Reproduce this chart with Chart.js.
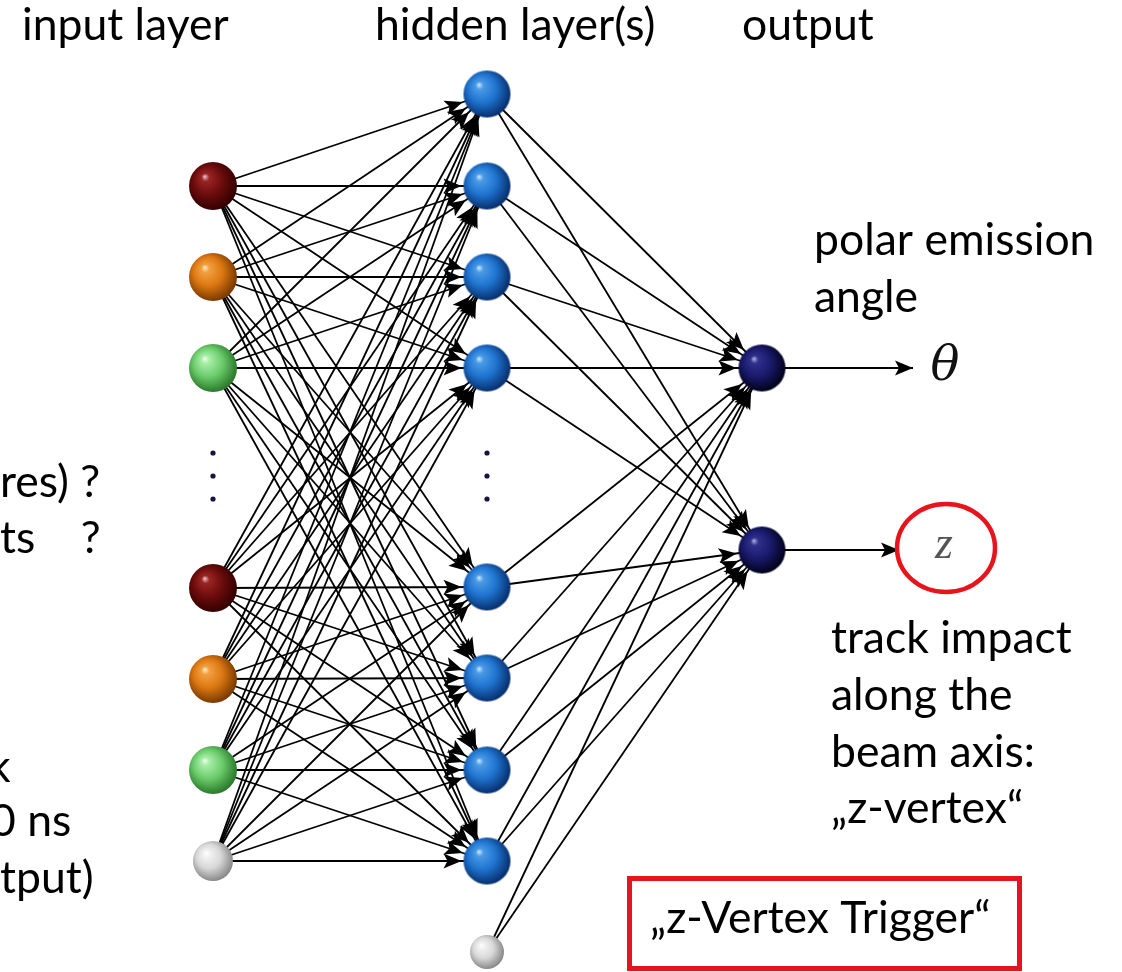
<!DOCTYPE html>
<html>
<head>
<meta charset="utf-8">
<script src="https://cdn.jsdelivr.net/npm/chart.js@4.4.0/dist/chart.umd.min.js"></script>
<style>
  html, body { margin: 0; padding: 0; background: #fff; overflow: hidden; }
  #wrap { width: 1122px; height: 972px; }
</style>
</head>
<body>
<div id="wrap"><canvas id="net" width="1122" height="972"></canvas></div>
<script>
// layer columns and node rows
const layerX = [213, 487, 762];
const inputY = [186, 277, 368, 588, 679, 770, 861];
const inputKind = ['maroon', 'orange', 'green', 'maroon', 'orange', 'green', 'bias'];
const hiddenY = [94, 186, 277, 368, 587, 678, 770, 861];
const hiddenBiasY = 952;
const outputY = [368, 550];
const outputEndX = [913, 899];
const outputSymbol = ['θ', 'z'];
const dotsY = [453, 476, 499];

const palette = {
    maroon: ['#f0c8c8', '#9a2424', '#6c0c0c', '#340000'],
    orange: ['#fff0d0', '#f2a040', '#dc7812', '#7a3a00'],
    green:  ['#f0fff0', '#a8eea8', '#6ccc6c', '#2a7a2a'],
    bias:   ['#ffffff', '#f2f2f2', '#d8d8d8', '#8a8a8a'],
    blue:   ['#d8ecff', '#4a9ae6', '#1f74d0', '#08306e'],
    navy:   ['#b8b8e8', '#30308c', '#1a1a6c', '#02021c']
};

function sphere(kind, r) {
    const c = document.createElement('canvas');
    c.width = c.height = Math.ceil(r * 2) + 2;
    const g = c.getContext('2d');
    const cx = c.width / 2, cy = c.height / 2;
    const [hi, light, body, edge] = palette[kind];
    const grad = g.createRadialGradient(cx - r * 0.35, cy - r * 0.4, 0, cx - r * 0.1, cy - r * 0.1, r * 1.1);
    grad.addColorStop(0, hi);
    grad.addColorStop(0.15, light);
    grad.addColorStop(0.55, body);
    grad.addColorStop(1, edge);
    g.fillStyle = grad;
    g.beginPath();
    g.arc(cx, cy, r, 0, Math.PI * 2);
    g.fill();
    return c;
}

const R = 23.5;
const inputR = inputKind.map(k => k === 'bias' ? 20 : 24);
const hiddenBiasR = 17;

// edges: every input -> every hidden, every hidden (+bias) -> every output
const edges = [];
inputY.forEach(y1 => hiddenY.forEach(y2 => edges.push({ x1: layerX[0], y1, x2: layerX[1], y2, r: R + 2 })));
hiddenY.concat([hiddenBiasY]).forEach(y1 => outputY.forEach(y2 => edges.push({ x1: layerX[1], y1, x2: layerX[2], y2, r: R + 2 })));
outputY.forEach((y, i) => edges.push({ x1: layerX[2], y1: y, x2: outputEndX[i], y2: y, r: 0 }));

const edgeSets = edges.map(e => ({
    data: [{ x: e.x1, y: e.y1 }, { x: e.x2, y: e.y2 }],
    showLine: true,
    borderColor: '#000',
    borderWidth: 1.8,
    pointRadius: 0,
    order: 3
}));

const nodeSets = [
    {
        data: inputY.map(y => ({ x: layerX[0], y })),
        pointStyle: inputKind.map((k, i) => sphere(k, inputR[i])),
        pointRadius: 20, order: 0
    },
    {
        data: hiddenY.map(y => ({ x: layerX[1], y })).concat([{ x: layerX[1], y: hiddenBiasY }]),
        pointStyle: hiddenY.map(() => sphere('blue', R)).concat([sphere('bias', hiddenBiasR)]),
        pointRadius: 17, order: 0
    },
    {
        data: outputY.map(y => ({ x: layerX[2], y })),
        pointStyle: outputY.map(() => sphere('navy', R)),
        pointRadius: 20, order: 0
    },
    {
        data: dotsY.map(y => ({ x: layerX[0], y })).concat(dotsY.map(y => ({ x: layerX[1], y }))),
        pointRadius: 2.6, pointBackgroundColor: '#14143c', pointBorderWidth: 0, order: 0
    }
];

// stealth-like arrow heads at the target end of each edge
const arrowPlugin = {
    id: 'arrows',
    beforeDatasetsDraw(chart) {
        const { ctx, scales: { x, y } } = chart;
        ctx.save();
        ctx.fillStyle = '#000';
        edges.forEach(e => {
            const ax = x.getPixelForValue(e.x1), ay = y.getPixelForValue(e.y1);
            const bx = x.getPixelForValue(e.x2), by = y.getPixelForValue(e.y2);
            const len = Math.hypot(bx - ax, by - ay);
            const ux = (bx - ax) / len, uy = (by - ay) / len;
            const tx = bx - ux * e.r, ty = by - uy * e.r;
            const L = 18, W = 7.5, inset = 4;
            ctx.beginPath();
            ctx.moveTo(tx, ty);
            ctx.lineTo(tx - ux * L - uy * W, ty - uy * L + ux * W);
            ctx.lineTo(tx - ux * (L - inset), ty - uy * (L - inset));
            ctx.lineTo(tx - ux * L + uy * W, ty - uy * L - ux * W);
            ctx.closePath();
            ctx.fill();
        });
        ctx.restore();
    }
};

const FONT = '44.5px Lato, "Open Sans", sans-serif';
const labels = [
    { t: 'input layer', x: 22, y: 40 },
    { t: 'hidden layer(s)', x: 375, y: 40 },
    { t: 'output', x: 742, y: 40 },
    { t: 'polar emission', x: 814, y: 255 },
    { t: 'angle', x: 814, y: 312 },
    { t: 'track impact', x: 831, y: 653 },
    { t: 'along the', x: 831, y: 710 },
    { t: 'beam axis:', x: 831, y: 767 },
    { t: '\u201Ez-vertex\u201C', x: 831, y: 823 },
    { t: '\u201Ez-Vertex Trigger\u201C', x: 650, y: 933 },
    { t: 'res) ?', x: 0, y: 497 },
    { t: 'ts    ?', x: 0, y: 553 },
    { t: 'k', x: -12, y: 782 },
    { t: '0 ns', x: -10, y: 836 },
    { t: 'tput)', x: 0, y: 893 }
];

const textPlugin = {
    id: 'texts',
    afterDraw(chart) {
        const { ctx, scales: { x, y } } = chart;
        ctx.save();
        ctx.fillStyle = '#000';
        ctx.font = FONT;
        ctx.textBaseline = 'alphabetic';
        labels.forEach(l => ctx.fillText(l.t, x.getPixelForValue(l.x), y.getPixelForValue(l.y)));

        // output symbols
        ctx.font = 'italic 48px "DejaVu Serif", "Liberation Serif", serif';
        ctx.textAlign = 'center';
        ctx.textBaseline = 'middle';
        ctx.fillStyle = '#111';
        ctx.fillText(outputSymbol[0], x.getPixelForValue(945), y.getPixelForValue(outputY[0]));
        ctx.fillStyle = '#555';
        ctx.font = 'italic 46px "Liberation Serif", serif';
        ctx.fillText(outputSymbol[1], x.getPixelForValue(944), y.getPixelForValue(outputY[1] - 4));

        // red highlight marks
        ctx.strokeStyle = '#e8141c';
        ctx.lineWidth = 4.5;
        ctx.beginPath();
        ctx.ellipse(x.getPixelForValue(946), y.getPixelForValue(548), 49, 44, 0, 0, Math.PI * 2);
        ctx.stroke();
        ctx.lineWidth = 5;
        ctx.strokeRect(x.getPixelForValue(629.5), y.getPixelForValue(878.5), 390, 90);
        ctx.restore();
    }
};

new Chart(document.getElementById('net'), {
    type: 'scatter',
    data: { datasets: nodeSets.concat(edgeSets) },
    options: {
        responsive: false,
        animation: false,
        events: [],
        layout: { padding: 0, autoPadding: false },
        scales: {
            x: { type: 'linear', min: 0, max: 1122, display: false },
            y: { type: 'linear', min: 0, max: 972, reverse: true, display: false }
        },
        plugins: { legend: { display: false }, tooltip: { enabled: false } }
    },
    plugins: [arrowPlugin, textPlugin]
});
</script>
</body>
</html>
